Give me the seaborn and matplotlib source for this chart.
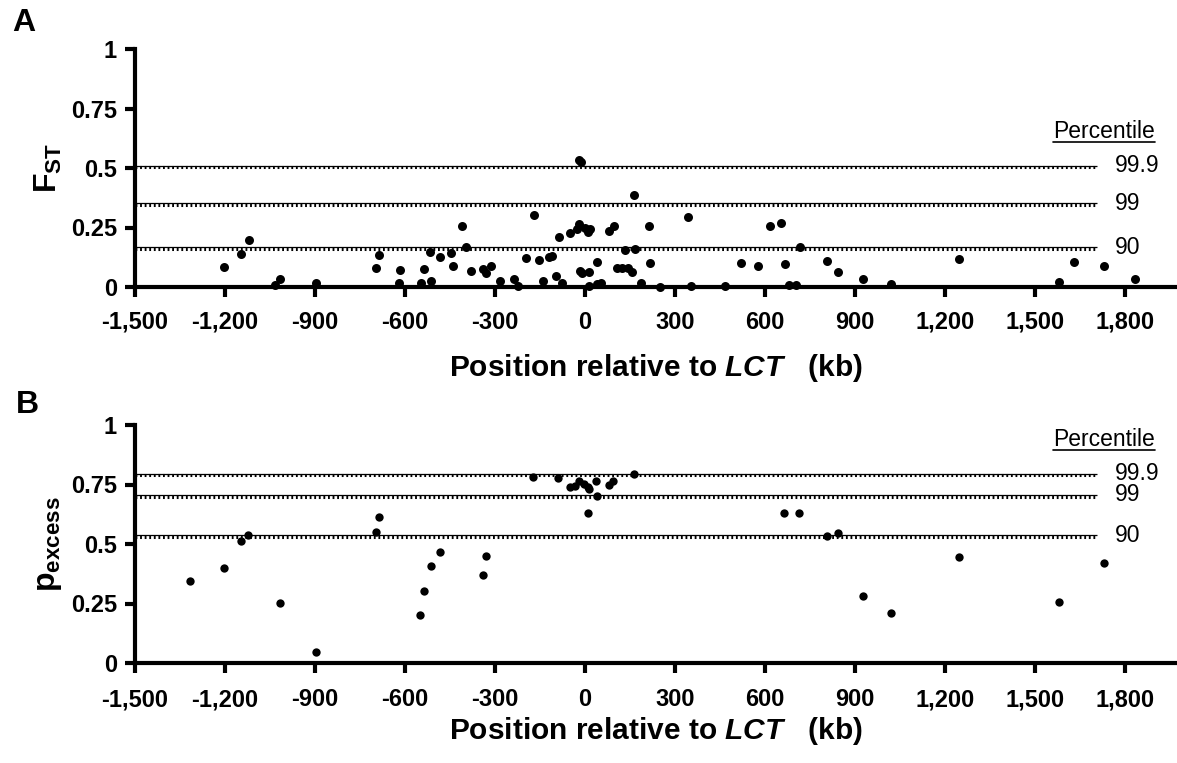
import numpy as np
import pandas as pd
import matplotlib
matplotlib.use("Agg")
import matplotlib.pyplot as plt
import seaborn as sns

# ── data ─────────────────────────────────────────────────────
fst_pos = [-1204, -1146, -1121, -1032, -1018, -896, -696, -688, -621, -618,
           -547, -536, -518, -512, -482, -446, -441, -410, -397, -380,
           -340, -329, -313, -282, -236, -223, -197, -171, -152, -141,
           -119, -110, -97, -88, -77, -49, -27, -21, -21, -13,
           -16, -10, 1, 10, 18, 12, 14, 40, 40, 54,
           81, 96, 107, 123, 143, 132, 157, 162, 166, 188,
           212, 218, 249, 343, 354, 466, 520, 578, 618, 653,
           667, 681, 703, 716, 807, 843, 927, 1021, 1245, 1579,
           1629, 1729, 1832]
fst_val = [0.085, 0.139, 0.197, 0.008, 0.035, 0.015, 0.078, 0.134, 0.015, 0.071,
           0.018, 0.077, 0.148, 0.027, 0.125, 0.141, 0.088, 0.256, 0.167, 0.067,
           0.074, 0.060, 0.090, 0.025, 0.032, 0.005, 0.123, 0.304, 0.115, 0.025,
           0.127, 0.130, 0.046, 0.211, 0.018, 0.225, 0.242, 0.265, 0.534, 0.527,
           0.069, 0.060, 0.249, 0.230, 0.242, 0.064, 0.005, 0.106, 0.013, 0.018,
           0.237, 0.256, 0.081, 0.081, 0.081, 0.155, 0.064, 0.387, 0.158, 0.018,
           0.256, 0.101, 0.001, 0.295, 0.005, 0.004, 0.101, 0.090, 0.256, 0.270,
           0.095, 0.008, 0.008, 0.167, 0.111, 0.064, 0.032, 0.013, 0.118, 0.022,
           0.104, 0.090, 0.032]

pex_pos = [-1318, -1204, -1146, -1123, -1018, -896, -696, -688, -549, -537,
           -513, -484, -340, -330, -174, -90, -49, -32, -21, -4,
           10, 14, 37, 40, 79, 93, 10, 162, 664, 714,
           807, 842, 927, 1021, 1245, 1579, 1729]
pex_val = [0.343, 0.398, 0.511, 0.539, 0.252, 0.046, 0.550, 0.615, 0.200, 0.301,
           0.409, 0.465, 0.371, 0.448, 0.780, 0.777, 0.738, 0.742, 0.763, 0.752,
           0.740, 0.731, 0.763, 0.700, 0.749, 0.763, 0.630, 0.795, 0.629, 0.629,
           0.532, 0.546, 0.280, 0.208, 0.445, 0.258, 0.420]

pct_labels = ["99.9", "99", "90"]
fst_thresh = [0.51, 0.352, 0.168]
pex_thresh = [0.795, 0.706, 0.536]

xticks = [-1500, -1200, -900, -600, -300, 0, 300, 600, 900, 1200, 1500, 1800]
xtick_labels = ["-1,500", "-1,200", "-900", "-600", "-300", "0", "300",
                "600", "900", "1,200", "1,500", "1,800"]
yticks = [0, 0.25, 0.5, 0.75, 1]
ytick_labels = ["0", "0.25", "0.5", "0.75", "1"]

df_a = pd.DataFrame({"pos": fst_pos, "val": fst_val})
df_b = pd.DataFrame({"pos": pex_pos, "val": pex_val})

# ── style ────────────────────────────────────────────────────
sns.set_style("ticks")
plt.rcParams["font.family"] = ["Liberation Sans", "DejaVu Sans"]
plt.rcParams["mathtext.fontset"] = "custom"
plt.rcParams["mathtext.rm"] = "Liberation Sans"
plt.rcParams["mathtext.bf"] = "Liberation Sans:bold"
plt.rcParams["mathtext.it"] = "Liberation Sans:italic"
plt.rcParams["mathtext.bfit"] = "Liberation Sans:bold:italic"
for key in ["axes.edgecolor", "text.color", "axes.labelcolor",
            "xtick.color", "ytick.color"]:
    plt.rcParams[key] = "black"

W, H = 1177, 763
fig = plt.figure(figsize=(W / 100, H / 100), dpi=100)
ax_a = fig.add_axes([135 / W, 1 - 287 / H, 1042 / W, 238 / H])
ax_b = fig.add_axes([135 / W, 1 - 663 / H, 1042 / W, 238 / H])

line_end = 1705
text_x = 1765
pct_texts = []


def style_panel(ax, df, thresh, ylab, s, lab_y, xlabpad, tickpad):
    for t in thresh:
        ax.hlines(t, -1500, line_end, color="black", lw=0.9, zorder=1)
        ax.hlines(t - 0.007, -1500, line_end, color="black", lw=2.2,
                  linestyles=(0, (0.6, 0.9)), zorder=1)
    sns.scatterplot(data=df, x="pos", y="val", ax=ax, color="black", s=s,
                    edgecolor="black", linewidth=0, zorder=3, clip_on=False,
                    legend=False)
    for t, lab in zip(thresh, pct_labels):
        ax.text(text_x, t, lab, fontsize=16.5, va="center", ha="left")
    pct_texts.append(ax.text(1560, lab_y, "Percentile", fontsize=16.5,
                             va="baseline", ha="left"))

    ax.set_xlim(-1500, 1973)
    ax.set_ylim(0, 1)
    ax.set_xticks(xticks)
    ax.set_xticklabels(xtick_labels, fontsize=17, fontweight="bold")
    ax.set_yticks(yticks)
    ax.set_yticklabels(ytick_labels, fontsize=17, fontweight="bold")
    ax.tick_params(axis="both", direction="out", length=7, width=3)
    ax.tick_params(axis="x", pad=tickpad)
    ax.tick_params(axis="y", pad=6)
    for side in ["top", "right"]:
        ax.spines[side].set_visible(False)
    for side in ["left", "bottom"]:
        ax.spines[side].set_linewidth(3)
    ax.set_ylabel(ylab, fontsize=23)
    ax.yaxis.set_label_coords(-0.068, 0.5)
    ax.set_xlabel(r"Position relative to $\mathbfit{LCT}$   (kb)",
                  fontsize=21.5, fontweight="bold", labelpad=xlabpad)


style_panel(ax_a, df_a, fst_thresh, r"$\mathbf{F}_{\mathbf{ST}}$", 42, 0.628, 13, 10)
style_panel(ax_b, df_b, pex_thresh, r"$\mathbf{p}_{\mathbf{excess}}$", 36, 0.91, 3, 11)

fig.text(12 / W, 1 - 8 / H, "A", fontsize=23, fontweight="bold", va="top")
fig.text(16 / W, 1 - 390 / H, "B", fontsize=23, fontweight="bold", va="top")

# underline the "Percentile" headers
fig.canvas.draw()
renderer = fig.canvas.get_renderer()
for txt in pct_texts:
    bb = txt.get_window_extent(renderer).transformed(fig.transFigure.inverted())
    y_ul = bb.y0 + 1.0 / H
    fig.add_artist(plt.Line2D([bb.x0, bb.x1], [y_ul, y_ul], color="black", lw=1.2))

fig.savefig("out.png", dpi=100)
